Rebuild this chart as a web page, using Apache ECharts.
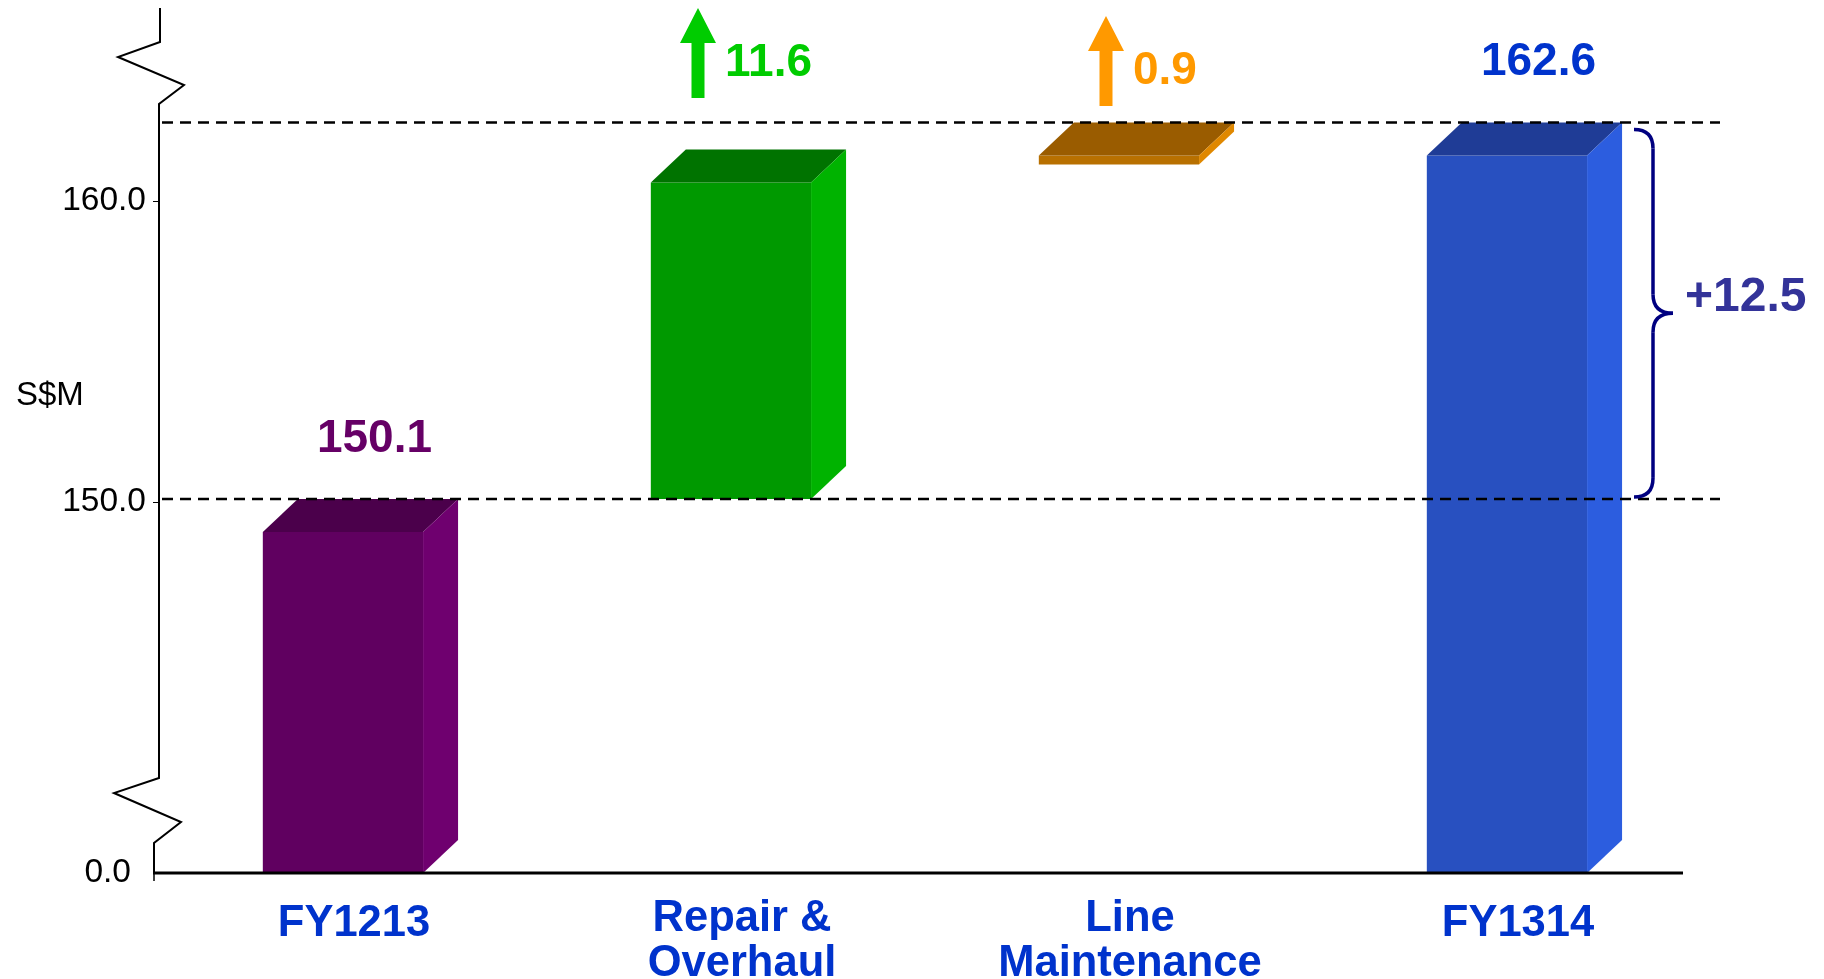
<!DOCTYPE html>
<html><head><meta charset="utf-8">
<script src="https://cdn.jsdelivr.net/npm/echarts@6.0.0/dist/echarts.min.js"></script>
<style>html,body{margin:0;padding:0;background:#fff}#c{width:1824px;height:979px}</style>
</head><body><div id="c"></div>
<script>
// ---- data ----
const categories = ['FY1213', 'Repair &\nOverhaul', 'Line\nMaintenance', 'FY1314'];
const values = [150.1, 11.6, 0.9, 162.6];
const kinds = ['total', 'delta', 'delta', 'total'];
const yTickValues = [0, 150, 160];
const yName = 'S$M';

// ---- styles ----
const FONT = '"Liberation Sans", Arial, Helvetica, sans-serif';
const faces = [
  {front:'#600060', top:'#4b004b', side:'#6f006f', label:'#660066'},
  {front:'#009900', top:'#007300', side:'#00b300', label:'#00cc00'},
  {front:'#b87000', top:'#9a5c00', side:'#e08800', label:'#ff9900'},
  {front:'#2850c0', top:'#1f3c96', side:'#2c5ddf', label:'#0033cc'}
];
const arrowTip = [null, 8, 16, null];   // layout: arrow tip offsets
const arrowDx = [null, -44, -24, null]; // layout: arrow x offset from category centre

// build waterfall rows [index, base, top]
let run = 0;
const rows = values.map((v, i) => {
  if (kinds[i] === 'total') { run = v; return [i, 0, v]; }
  const b = run; run = +(run + v).toFixed(1); return [i, b, run];
});

const D = 35, DY = 33, MIN_T = 9;
function geom(cx, band, yTop, yBase) {
  const W = band * 0.413;
  const fl = cx - band * 0.235, fr = fl + W;
  const frontTop = yTop + DY;
  const frontBottom = Math.max(yBase, frontTop + MIN_T);
  return {fl, fr, yTop, frontTop, frontBottom, sideBottom: frontBottom - DY};
}

const chart = echarts.init(document.getElementById('c'), null, {renderer: 'canvas'});
const option = {
  animation: false,
  backgroundColor: '#fff',
  textStyle: {fontFamily: FONT},
  grid: {left: 160, right: 112, top: 8, bottom: 106, containLabel: false, outerBoundsMode: 'none'},
  xAxis: {
    type: 'category', data: categories,
    axisLine: {show: false},
    axisTick: {show: false}, splitLine: {show: false},
    axisLabel: {
      interval: 0, margin: 23,
      formatter: v => v.indexOf('\n') >= 0 ? v.split('\n').map(s => '{m|' + s + '}').join('\n') : '{s|' + v + '}',
      rich: {
        m: {fontSize: 43.5, fontWeight: 'bold', color: '#0033cc', lineHeight: 45, fontFamily: FONT},
        s: {fontSize: 43.5, fontWeight: 'bold', color: '#0033cc', lineHeight: 45, padding: [10, 0, 0, 0], fontFamily: FONT}
      }
    }
  },
  yAxis: {
    type: 'value', min: 0, max: 166.4, interval: 10,
    breaks: [{start: 1, end: 141, gap: 2.32}],
    breakArea: {show: false, itemStyle: {opacity: 0, borderWidth: 0}},
    axisLine: {show: false}, splitLine: {show: false},
    axisTick: {show: true, length: 7, customValues: [150, 160], lineStyle: {color: '#000', width: 1}},
    axisLabel: {
      customValues: yTickValues, margin: 14, fontSize: 33.5, color: '#000',
      formatter: v => v === 0 ? '{z|0.0}' : '{n|' + v.toFixed(1) + '}',
      rich: {
        z: {fontSize: 33.5, color: '#000', padding: [0, 15, 0, 0], fontFamily: FONT},
        n: {fontSize: 33.5, color: '#000', fontFamily: FONT}
      }
    }
  },
  series: [{
    type: 'custom', data: rows, encode: {x: 0, y: [1, 2]}, z: 2,
    renderItem: (params, api) => {
      const i = api.value(0);
      const pTop = api.coord([i, api.value(2)]);
      const yb = api.coord([i, api.value(1)])[1];
      const band = api.size([1, 0])[0];
      const g = geom(pTop[0], band, pTop[1], yb);
      const f = faces[i];
      return {type: 'group', children: [
        {type: 'polygon', shape: {points: [[g.fl, g.frontTop], [g.fr, g.frontTop], [g.fr, g.frontBottom], [g.fl, g.frontBottom]]}, style: {fill: f.front}},
        {type: 'polygon', shape: {points: [[g.fl, g.frontTop], [g.fl + D, g.yTop], [g.fr + D, g.yTop], [g.fr, g.frontTop]]}, style: {fill: f.top}},
        {type: 'polygon', shape: {points: [[g.fr, g.frontTop], [g.fr + D, g.yTop], [g.fr + D, g.sideBottom], [g.fr, g.frontBottom]]}, style: {fill: f.side}}
      ]};
    }
  }]
};
chart.setOption(option);

// ---- annotations positioned from the axes ----
const px = (i, v) => chart.convertToPixel({xAxisIndex: 0, yAxisIndex: 0}, [i, v]);
const band = px(1, 0)[0] - px(0, 0)[0];
const y0 = px(0, 0)[1];
const x0 = 160, gTop = 8;
const yBrkHi = px(0, 141)[1], yBrkLo = px(0, 1)[1];
const gr = [];

// y axis line with break marks
gr.push({type: 'polyline', z: 20, shape: {points: [
  [x0, gTop], [x0, gTop + 34], [x0 - 42, gTop + 49], [x0 + 24, gTop + 77], [x0 - 1, gTop + 96],
  [x0 - 1, yBrkHi + 5], [x0 - 46, yBrkHi + 20], [x0 + 21, yBrkHi + 49], [x0 - 6, yBrkLo], [x0 - 6, y0]
]}, style: {stroke: '#000', lineWidth: 2, fill: null}});
// x axis base line
gr.push({type: 'line', z: 20, shape: {x1: x0 - 7, y1: y0, x2: 1683, y2: y0}, style: {stroke: '#000', lineWidth: 3}});
gr.push({type: 'line', z: 20, shape: {x1: x0 - 6, y1: y0, x2: x0 - 6, y2: y0 + 8}, style: {stroke: '#000', lineWidth: 1.5}});

// dashed reference lines at start and end totals
const startTotal = values[0], endTotal = values[values.length - 1];
[startTotal, endTotal].forEach(v => {
  const y = px(0, v)[1];
  gr.push({type: 'line', z: 20, shape: {x1: 162, y1: y, x2: 1720, y2: y}, style: {stroke: '#000', lineWidth: 2.5, lineDash: [11, 7]}});
});

rows.forEach((r, i) => {
  const p = px(i, r[2]);
  const g = geom(p[0], band, p[1], px(i, r[1])[1]);
  const cBar = (g.fl + g.fr + D) / 2;
  if (kinds[i] === 'total') {
    gr.push({type: 'text', z: 20, style: {text: values[i].toFixed(1), x: cBar + 14, y: p[1] - 60, align: 'center', verticalAlign: 'middle',
      font: 'bold 46px ' + FONT, fill: faces[i].label}});
  } else {
    const ax = p[0] + arrowDx[i], t = arrowTip[i], b = t + 90;
    gr.push({type: 'polygon', z: 20, shape: {points: [[ax, t], [ax + 18, t + 35], [ax + 6.5, t + 35], [ax + 6.5, b], [ax - 6.5, b], [ax - 6.5, t + 35], [ax - 18, t + 35]]},
      style: {fill: faces[i].label}});
    gr.push({type: 'text', z: 20, style: {text: values[i].toFixed(1), x: ax + 27, y: t + 55, align: 'left', verticalAlign: 'middle',
      font: 'bold 46px ' + FONT, fill: faces[i].label}});
  }
});

// brace showing total change
const last = rows.length - 1;
const pe = px(last, endTotal);
const ge = geom(pe[0], band, pe[1], y0);
const bx = 1634, yT = pe[1] + 7, yB = px(0, startTotal)[1] - 2, yM = (yT + yB) / 2;
const bStyle = {stroke: '#000080', lineWidth: 3.5, fill: null};
const vx = bx + 19, tx = bx + 39, r = 19;
[
  {x1: bx, y1: yT, cpx1: vx, cpy1: yT, x2: vx, y2: yT + r},
  {x1: vx, y1: yM - r, cpx1: vx, cpy1: yM, x2: tx, y2: yM},
  {x1: tx, y1: yM, cpx1: vx, cpy1: yM, x2: vx, y2: yM + r},
  {x1: vx, y1: yB - r, cpx1: vx, cpy1: yB, x2: bx, y2: yB}
].forEach(s => gr.push({type: 'bezierCurve', z: 20, shape: s, style: bStyle}));
gr.push({type: 'line', z: 20, shape: {x1: vx, y1: yT + r, x2: vx, y2: yM - r}, style: bStyle});
gr.push({type: 'line', z: 20, shape: {x1: vx, y1: yM + r, x2: vx, y2: yB - r}, style: bStyle});
gr.push({type: 'text', z: 20, style: {text: '+' + (endTotal - startTotal).toFixed(1), x: bx + 51, y: yM - 15, align: 'left', verticalAlign: 'middle',
  font: 'bold 48px ' + FONT, fill: '#333399'}});

// axis name
gr.push({type: 'text', z: 20, style: {text: yName, x: 16, y: 396, align: 'left', verticalAlign: 'middle', font: '33px ' + FONT, fill: '#000'}});

chart.setOption({graphic: gr});
</script>
</body></html>
